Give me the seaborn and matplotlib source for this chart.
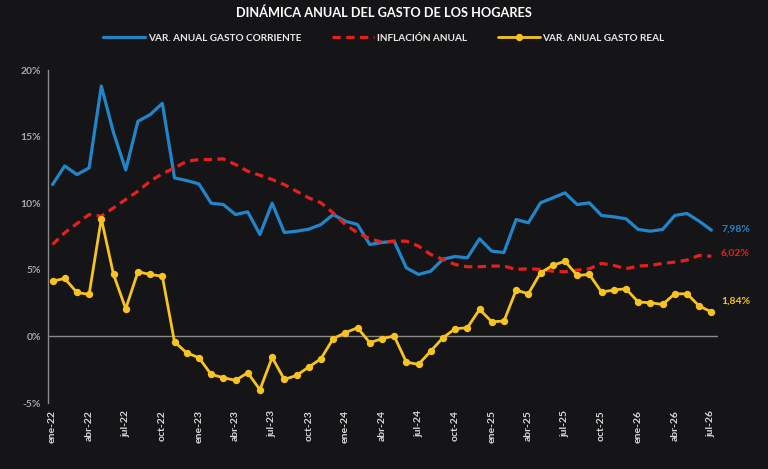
import numpy as np
import pandas as pd
import matplotlib
matplotlib.use("Agg")
import matplotlib.pyplot as plt
import seaborn as sns

# months ene-22 .. jul-26
meses = ["ene", "feb", "mar", "abr", "may", "jun", "jul", "ago", "sep", "oct", "nov", "dic"]
periodos = [f"{meses[m]}-{y}" for y in range(22, 27) for m in range(12)][:55]

gasto_corriente = [11.4, 12.8, 12.15, 12.65, 18.8, 15.3, 12.5, 16.15, 16.65, 17.5,
                   11.9, 11.7, 11.45, 10.0, 9.9, 9.15, 9.35, 7.65, 10.0, 7.8,
                   7.9, 8.05, 8.4, 9.15, 8.65, 8.4, 6.9, 7.05, 7.15, 5.15,
                   4.65, 4.9, 5.8, 6.0, 5.9, 7.33, 6.4, 6.3, 8.78, 8.53,
                   10.03, 10.4, 10.78, 9.9, 10.03, 9.08, 8.98, 8.83, 8.03, 7.9,
                   8.03, 9.08, 9.23, 8.65, 7.98]
inflacion = [6.9, 7.78, 8.47, 9.15, 9.03, 9.65, 10.28, 10.9, 11.65, 12.22,
             12.65, 13.15, 13.28, 13.28, 13.33, 12.9, 12.4, 12.1, 11.78, 11.4,
             10.9, 10.4, 10.03, 9.28, 8.4, 7.78, 7.33, 7.08, 7.15, 7.15,
             6.78, 6.15, 5.78, 5.4, 5.23, 5.23, 5.28, 5.28, 5.03, 5.08,
             5.03, 4.9, 4.85, 4.98, 5.08, 5.48, 5.33, 5.08, 5.28, 5.33,
             5.48, 5.58, 5.73, 6.08, 6.02]
gasto_real = [4.15, 4.35, 3.3, 3.15, 8.85, 4.65, 2.08, 4.85, 4.65, 4.52,
              -0.42, -1.23, -1.6, -2.85, -3.1, -3.3, -2.73, -4.0, -1.58, -3.23,
              -2.93, -2.3, -1.68, -0.17, 0.28, 0.65, -0.47, -0.17, 0.03, -1.93,
              -2.1, -1.1, -0.1, 0.58, 0.65, 2.03, 1.1, 1.15, 3.48, 3.2,
              4.78, 5.33, 5.65, 4.58, 4.65, 3.33, 3.48, 3.58, 2.58, 2.53,
              2.4, 3.2, 3.2, 2.28, 1.84]

y_ticks = [-5, 0, 5, 10, 15, 20]

df = pd.DataFrame({"mes": np.arange(len(periodos)),
                   "corriente": gasto_corriente,
                   "inflacion": inflacion,
                   "real": gasto_real})

BG = "#151517"
BLUE = "#2385c9"
RED = "#e4201c"
YELLOW = "#f6c322"
GRAY = "#a8a8a8"

sns.set_theme(style="dark", rc={"axes.facecolor": BG, "figure.facecolor": BG})
plt.rcParams["font.family"] = ["Lato", "DejaVu Sans"]

fig = plt.figure(figsize=(7.68, 4.69), dpi=100)
ax = fig.add_axes([0.0625, 0.1407, 0.8725, 0.71])

ax.axhline(0, color="#8a8a8a", lw=1.0, zorder=1)

sns.lineplot(data=df, x="mes", y="corriente", ax=ax, color=BLUE, lw=2.3,
             label="VAR. ANUAL GASTO CORRIENTE", solid_joinstyle="round", zorder=3)
sns.lineplot(data=df, x="mes", y="inflacion", ax=ax, color=RED, lw=2.3,
             linestyle=(0, (2.6, 1.7)), label="INFLACIÓN ANUAL", zorder=4)
sns.lineplot(data=df, x="mes", y="real", ax=ax, color=YELLOW, lw=2.0,
             marker="o", markersize=5.3, markeredgewidth=0,
             label="VAR. ANUAL GASTO REAL", zorder=5)

ax.set_xlim(-0.37, 54.55)
ax.set_ylim(-5, 20)
ax.set_yticks(y_ticks)
ax.set_yticklabels([f"{v}%" for v in y_ticks], color=GRAY, fontsize=7.5, fontweight="bold")
ax.set_xticks(df["mes"][::3])
ax.set_xticklabels(periodos[::3], rotation=90, color="#d8d8d8", fontsize=7.5, fontweight="bold")
ax.tick_params(axis="both", length=0, pad=5)
ax.set_xlabel("")
ax.set_ylabel("")
ax.grid(False)
for s in ["top", "right", "bottom"]:
    ax.spines[s].set_visible(False)
ax.spines["left"].set_color("#8a8a8a")
ax.spines["left"].set_linewidth(1.0)

# end labels
for vals, col, dy in [(gasto_corriente, BLUE, 1), (inflacion, RED, 2), (gasto_real, YELLOW, 8)]:
    ax.annotate(f"{vals[-1]:.2f}%".replace(".", ","), xy=(df["mes"].iloc[-1], vals[-1]),
                xytext=(7, dy), textcoords="offset points", color=col,
                fontsize=7.5, fontweight="bold", va="center", ha="left",
                annotation_clip=False)

ax.legend_.remove()
handles, labels = ax.get_legend_handles_labels()
leg = fig.legend(handles, labels, loc="center", bbox_to_anchor=(0.5, 0.918), ncol=3,
                 frameon=False, fontsize=7.2, handlelength=4.2, handletextpad=0.25,
                 columnspacing=3.1)
for t in leg.get_texts():
    t.set_color("#e8e8e8")
    t.set_fontweight("bold")

fig.text(0.5, 0.972, "DINÁMICA ANUAL DEL GASTO DE LOS HOGARES", ha="center", va="center",
         color="white", fontsize=9.2, fontweight="bold")

fig.savefig("out.png", dpi=100, facecolor=BG)
